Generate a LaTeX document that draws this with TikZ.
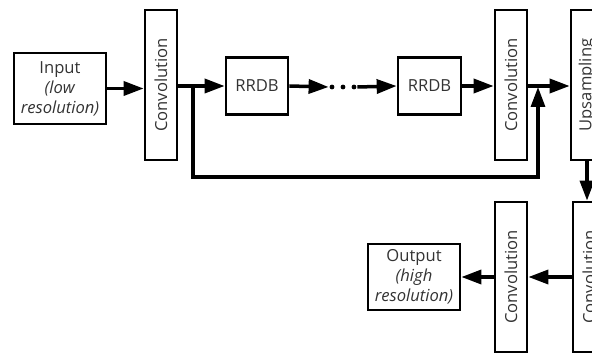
\documentclass[tikz,border=0pt]{standalone}
\usepackage{fontspec}
\setmainfont{Open Sans}
\usetikzlibrary{arrows.meta}
\begin{document}
\begin{tikzpicture}[x=0.5pt, y=-0.5pt,
		block/.style={draw, line width=1.35pt, inner sep=0pt, align=center, text=black!80, font=\fontsize{8.3}{10}\selectfont},
		convbox/.style={block, minimum width=16pt, minimum height=75pt},
		flow/.style={line width=1.75pt, -{Triangle[length=10pt, width=7pt]}},
		skip/.style={line width=1.6pt, -{Triangle[length=10pt, width=7pt]}}]

		\clip (0,0) rectangle (592,352);

		\def \conv {\rotatebox{90}{Convolution}};

		% top row
		\node (input) at (60,88.5) [block, minimum width=46pt, minimum height=35.5pt] {Input\\\textit{(low}\\\textit{resolution)}};
		\node (conv1) at (161,85) [convbox] {\conv};
		\node (rrdb1) at (257,86) [block, minimum width=31pt, minimum height=28.5pt] {RRDB};
		\node (dots) at (343,87) [inner sep=0pt, minimum width=14pt] {};
		\node (rrdb2) at (429.5,86) [block, minimum width=31.5pt, minimum height=28.5pt] {RRDB};
		\node (conv2) at (511,85) [convbox] {\conv};
		\node (up) at (587,85) [convbox] {\rotatebox{90}{Upsampling}};

		% bottom row
		\node (conv3) at (589,277) [convbox] {\conv};
		\node (conv4) at (511,277) [convbox] {\conv};
		\node (output) at (414,277) [block, minimum width=46pt, minimum height=33pt] {Output\\\textit{(high}\\\textit{resolution)}};

		\foreach \x in {332,343,354} {
		    \fill (\x,87) circle (1.2pt);
		}

		\draw[flow] (input.east) -- (input.east -| conv1.west);
		\draw[flow] (rrdb1.west -| conv1.east) -- (rrdb1.west);
		\draw[flow] (rrdb1.east) -- (dots.west);
		\draw[flow] (dots.east) -- (rrdb2.west);
		\draw[flow] (rrdb2.east) -- (rrdb2.east -| conv2.west);
		\draw[flow] (rrdb2.east -| conv2.east) -- (rrdb2.east -| up.west);

		% skip connection
		\coordinate (split) at (193,86);
		\coordinate (join) at (538,87);
		\draw[skip] (split) -- ++(0,91) -| (join);

		\draw[flow] (up.south) -- (up.south |- conv3.north);
		\draw[flow] (conv3.west) -- (conv4.east);
		\draw[flow] (conv4.west) -- (output.east);
	\end{tikzpicture}
\end{document}
